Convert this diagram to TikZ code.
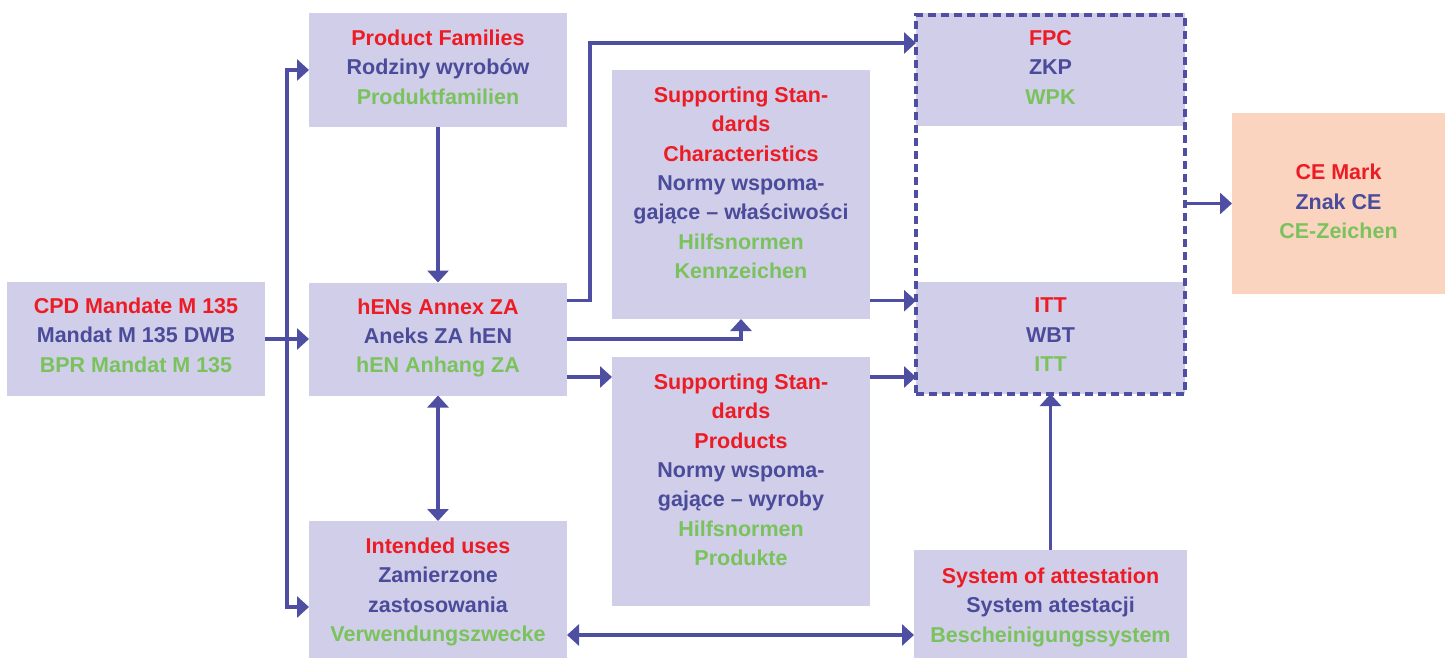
\documentclass[tikz,border=0pt]{standalone}
\usepackage{fontspec}
\setmainfont{Liberation Sans}
\usetikzlibrary{arrows.meta}
\definecolor{boxfill}{RGB}{208,206,232}
\definecolor{cefill}{RGB}{251,212,192}
\definecolor{lin}{RGB}{78,78,163}
\definecolor{tred}{RGB}{237,28,36}
\definecolor{tblue}{RGB}{75,75,155}
\definecolor{tgreen}{RGB}{122,195,92}
\newcommand{\redt}[1]{\textcolor{tred}{#1}}
\newcommand{\bluet}[1]{\textcolor{tblue}{#1}}
\newcommand{\greent}[1]{\textcolor{tgreen}{#1}}
\begin{document}
\begin{tikzpicture}[x=1pt,y=-1pt,
  boxnode/.style={rectangle,fill=boxfill,draw=none,inner sep=0pt,outer sep=0pt},
  txt/.style={inner sep=0pt,outer sep=0pt,align=center,font=\fontsize{21.5}{29.3}\selectfont\bfseries},
  conn/.style={draw=lin,line width=3.2pt},
  arr/.style={conn,-{Triangle[length=12pt,width=21pt]}},
  arrboth/.style={conn,{Triangle[length=12pt,width=21pt]}-{Triangle[length=12pt,width=21pt]}},
  grpbox/.style={rectangle,draw=lin,line width=3.5pt,dash pattern=on 8pt off 5pt,inner sep=0pt,outer sep=0pt,fill=none}
]
\useasboundingbox (0,0) rectangle (1450,658);

% boxes
\node[boxnode,minimum width=258pt,minimum height=114pt] (cpd) at (136,339) {};
\node[boxnode,minimum width=258pt,minimum height=114pt] (pf) at (438,70) {};
\node[boxnode,minimum width=258pt,minimum height=113pt] (hen) at (438,339) {};
\node[boxnode,minimum width=258pt,minimum height=137pt] (iu) at (438,589.5) {};
\node[boxnode,minimum width=258pt,minimum height=249pt] (sc) at (741,194.5) {};
\node[boxnode,minimum width=258pt,minimum height=249pt] (sp) at (741,481.5) {};
\node[boxnode,minimum width=269pt,minimum height=113pt] (fpc) at (1050.5,70) {};
\node[boxnode,minimum width=269pt,minimum height=112pt] (itt) at (1050.5,338) {};
\node[boxnode,minimum width=273pt,minimum height=108pt] (sa) at (1050.5,604) {};
\node[rectangle,fill=cefill,inner sep=0pt,outer sep=0pt,minimum width=213pt,minimum height=181pt] (ce) at (1338.5,203.5) {};
\node[grpbox,minimum width=269pt,minimum height=379pt] (grp) at (1050.5,204.5) {};

% texts
\node[txt,anchor=north] (cpdt) at ([yshift=-16pt]cpd.north) {\redt{CPD Mandate M 135}\\\bluet{Mandat M 135 DWB}\\\greent{BPR Mandat M 135}};
\node[txt,anchor=north] (pft) at ([yshift=-17pt]pf.north) {\redt{Product Families}\\\bluet{Rodziny wyrobów}\\\greent{Produktfamilien}};
\node[txt,anchor=north] (hent) at ([yshift=-16pt]hen.north) {\redt{hENs Annex ZA}\\\bluet{Aneks ZA hEN}\\\greent{hEN Anhang ZA}};
\node[txt,anchor=north] (iut) at ([yshift=-17pt]iu.north) {\redt{Intended uses}\\\bluet{Zamierzone}\\\bluet{zastosowania}\\\greent{Verwendungszwecke}};
\node[txt,anchor=north] (sct) at ([yshift=-17pt]sc.north) {\redt{Supporting Stan-}\\\redt{dards}\\\redt{Characteristics}\\\bluet{Normy wspoma-}\\\bluet{gające – właściwości}\\\greent{Hilfsnormen}\\\greent{Kennzeichen}};
\node[txt,anchor=north] (spt) at ([yshift=-17pt]sp.north) {\redt{Supporting Stan-}\\\redt{dards}\\\redt{Products}\\\bluet{Normy wspoma-}\\\bluet{gające – wyroby}\\\greent{Hilfsnormen}\\\greent{Produkte}};
\node[txt,anchor=north] (fpct) at ([yshift=-17pt]fpc.north) {\redt{FPC}\\\bluet{ZKP}\\\greent{WPK}};
\node[txt,anchor=north] (ittt) at ([yshift=-16pt]itt.north) {\redt{ITT}\\\bluet{WBT}\\\greent{ITT}};
\node[txt,anchor=north] (sat) at ([yshift=-18pt]sa.north) {\redt{System of attestation}\\\bluet{System atestacji}\\\greent{Bescheinigungssystem}};
\node[txt] (cet) at ([yshift=2pt]ce.center) {\redt{CE Mark}\\\bluet{Znak CE}\\\greent{CE-Zeichen}};

% helper coordinates
\coordinate (spine) at (287,607);
\coordinate (knee) at (590,43);
\coordinate (row1) at (0,300.7);
\coordinate (row3) at (0,377);
\coordinate (row4) at (0,635);

% connectors
\draw[arr] (cpd.east) -- (hen.west);
\draw[arrboth] (pf.west) -| (spine) -- (iu.west |- spine);
\draw[arr] (pf.south) -- (hen.north);
\draw[arrboth] (hen.south) -- (iu.north);
\draw[arr] (hen.east |- row1) -| (knee) -- (grp.west |- knee);
\draw[arr] (hen.east) -| (sc.south);
\draw[arr] (hen.east |- row3) -- (sp.west |- row3);
\draw[arr] (sc.east |- row1) -- (grp.west |- row1);
\draw[arr] (sp.east |- row3) -- (grp.west |- row3);
\draw[arr] (sa.north) -- (grp.south);
\draw[arrboth] (iu.east |- row4) -- (sa.west |- row4);
\draw[arr] (grp.east |- ce.west) -- (ce.west);
\end{tikzpicture}
\end{document}
